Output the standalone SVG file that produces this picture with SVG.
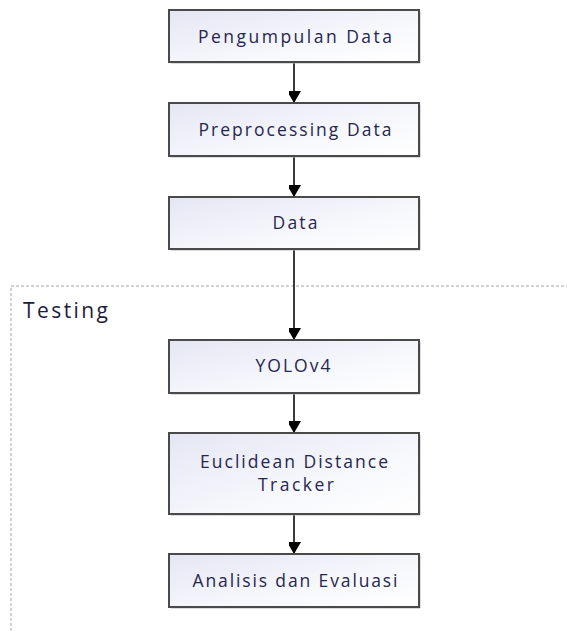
<svg xmlns="http://www.w3.org/2000/svg" width="567" height="631" viewBox="0 0 567 631">
<defs>
<linearGradient id="g" x1="0" y1="0" x2="1" y2="1">
<stop offset="0" stop-color="#e4e6f4"/>
<stop offset="0.6" stop-color="#f7f8fc"/>
<stop offset="1" stop-color="#ffffff"/>
</linearGradient>
<marker id="ah" markerWidth="14" markerHeight="12" refX="12" refY="7" orient="auto" markerUnits="userSpaceOnUse">
<path d="M0,0 L12,7 L0,14 Z" fill="#000"/>
</marker>
<style>
.box{fill:url(#g);stroke:#4a4a4a;stroke-width:2}
.sh{fill:none;stroke:#b8b8b8;stroke-width:1}
.lbl{font-family:"Open Sans","Noto Sans",sans-serif;font-size:17.5px;fill:#262650;text-anchor:middle}
.con{stroke:#3a3a3a;stroke-width:2;fill:none;marker-end:url(#ah)}
</style>
</defs>
<rect width="567" height="631" fill="#fff"/>
<g id="testing">
<rect x="11" y="286" width="600" height="400" fill="none" stroke="#a6a6a6" stroke-width="1" stroke-dasharray="3,2"/>
<text x="23" y="318" font-family="'Open Sans','Noto Sans',sans-serif" font-size="21" fill="#1c1c3c" textLength="85" lengthAdjust="spacing">Testing</text>
</g>
<g id="connectors">
<line class="con" x1="294" y1="62" x2="294" y2="103"/>
<line class="con" x1="294" y1="156" x2="294" y2="197"/>
<line class="con" x1="294" y1="249" x2="294" y2="340"/>
<line class="con" x1="294" y1="393" x2="294" y2="433"/>
<line class="con" x1="294" y1="514" x2="294" y2="554"/>
</g>
<g id="n1">
<polyline class="sh" points="420,12 420,63 171,63"/>
<rect class="box" x="169" y="10" width="250" height="52"/>
<text class="lbl" x="295" y="43" textLength="194" lengthAdjust="spacing">Pengumpulan Data</text>
</g>
<g id="n2">
<polyline class="sh" points="420,105 420,157 171,157"/>
<rect class="box" x="169" y="103" width="250" height="53"/>
<text class="lbl" x="295" y="136" textLength="193" lengthAdjust="spacing">Preprocessing Data</text>
</g>
<g id="n3">
<polyline class="sh" points="420,199 420,250 171,250"/>
<rect class="box" x="169" y="197" width="250" height="52"/>
<text class="lbl" x="295" y="229" textLength="45" lengthAdjust="spacing">Data</text>
</g>
<g id="n4">
<polyline class="sh" points="420,342 420,394 171,394"/>
<rect class="box" x="169" y="340" width="250" height="53"/>
<text class="lbl" x="293" y="372" textLength="75" lengthAdjust="spacing">YOLOv4</text>
</g>
<g id="n5">
<polyline class="sh" points="420,435 420,515 171,515"/>
<rect class="box" x="169" y="433" width="250" height="81"/>
<text class="lbl" x="294" y="468" textLength="188" lengthAdjust="spacing">Euclidean Distance</text>
<text class="lbl" x="296" y="491" textLength="76" lengthAdjust="spacing">Tracker</text>
</g>
<g id="n6">
<polyline class="sh" points="420,556 420,608 171,608"/>
<rect class="box" x="169" y="554" width="250" height="53"/>
<text class="lbl" x="295" y="587" textLength="205" lengthAdjust="spacing">Analisis dan Evaluasi</text>
</g>
</svg>
